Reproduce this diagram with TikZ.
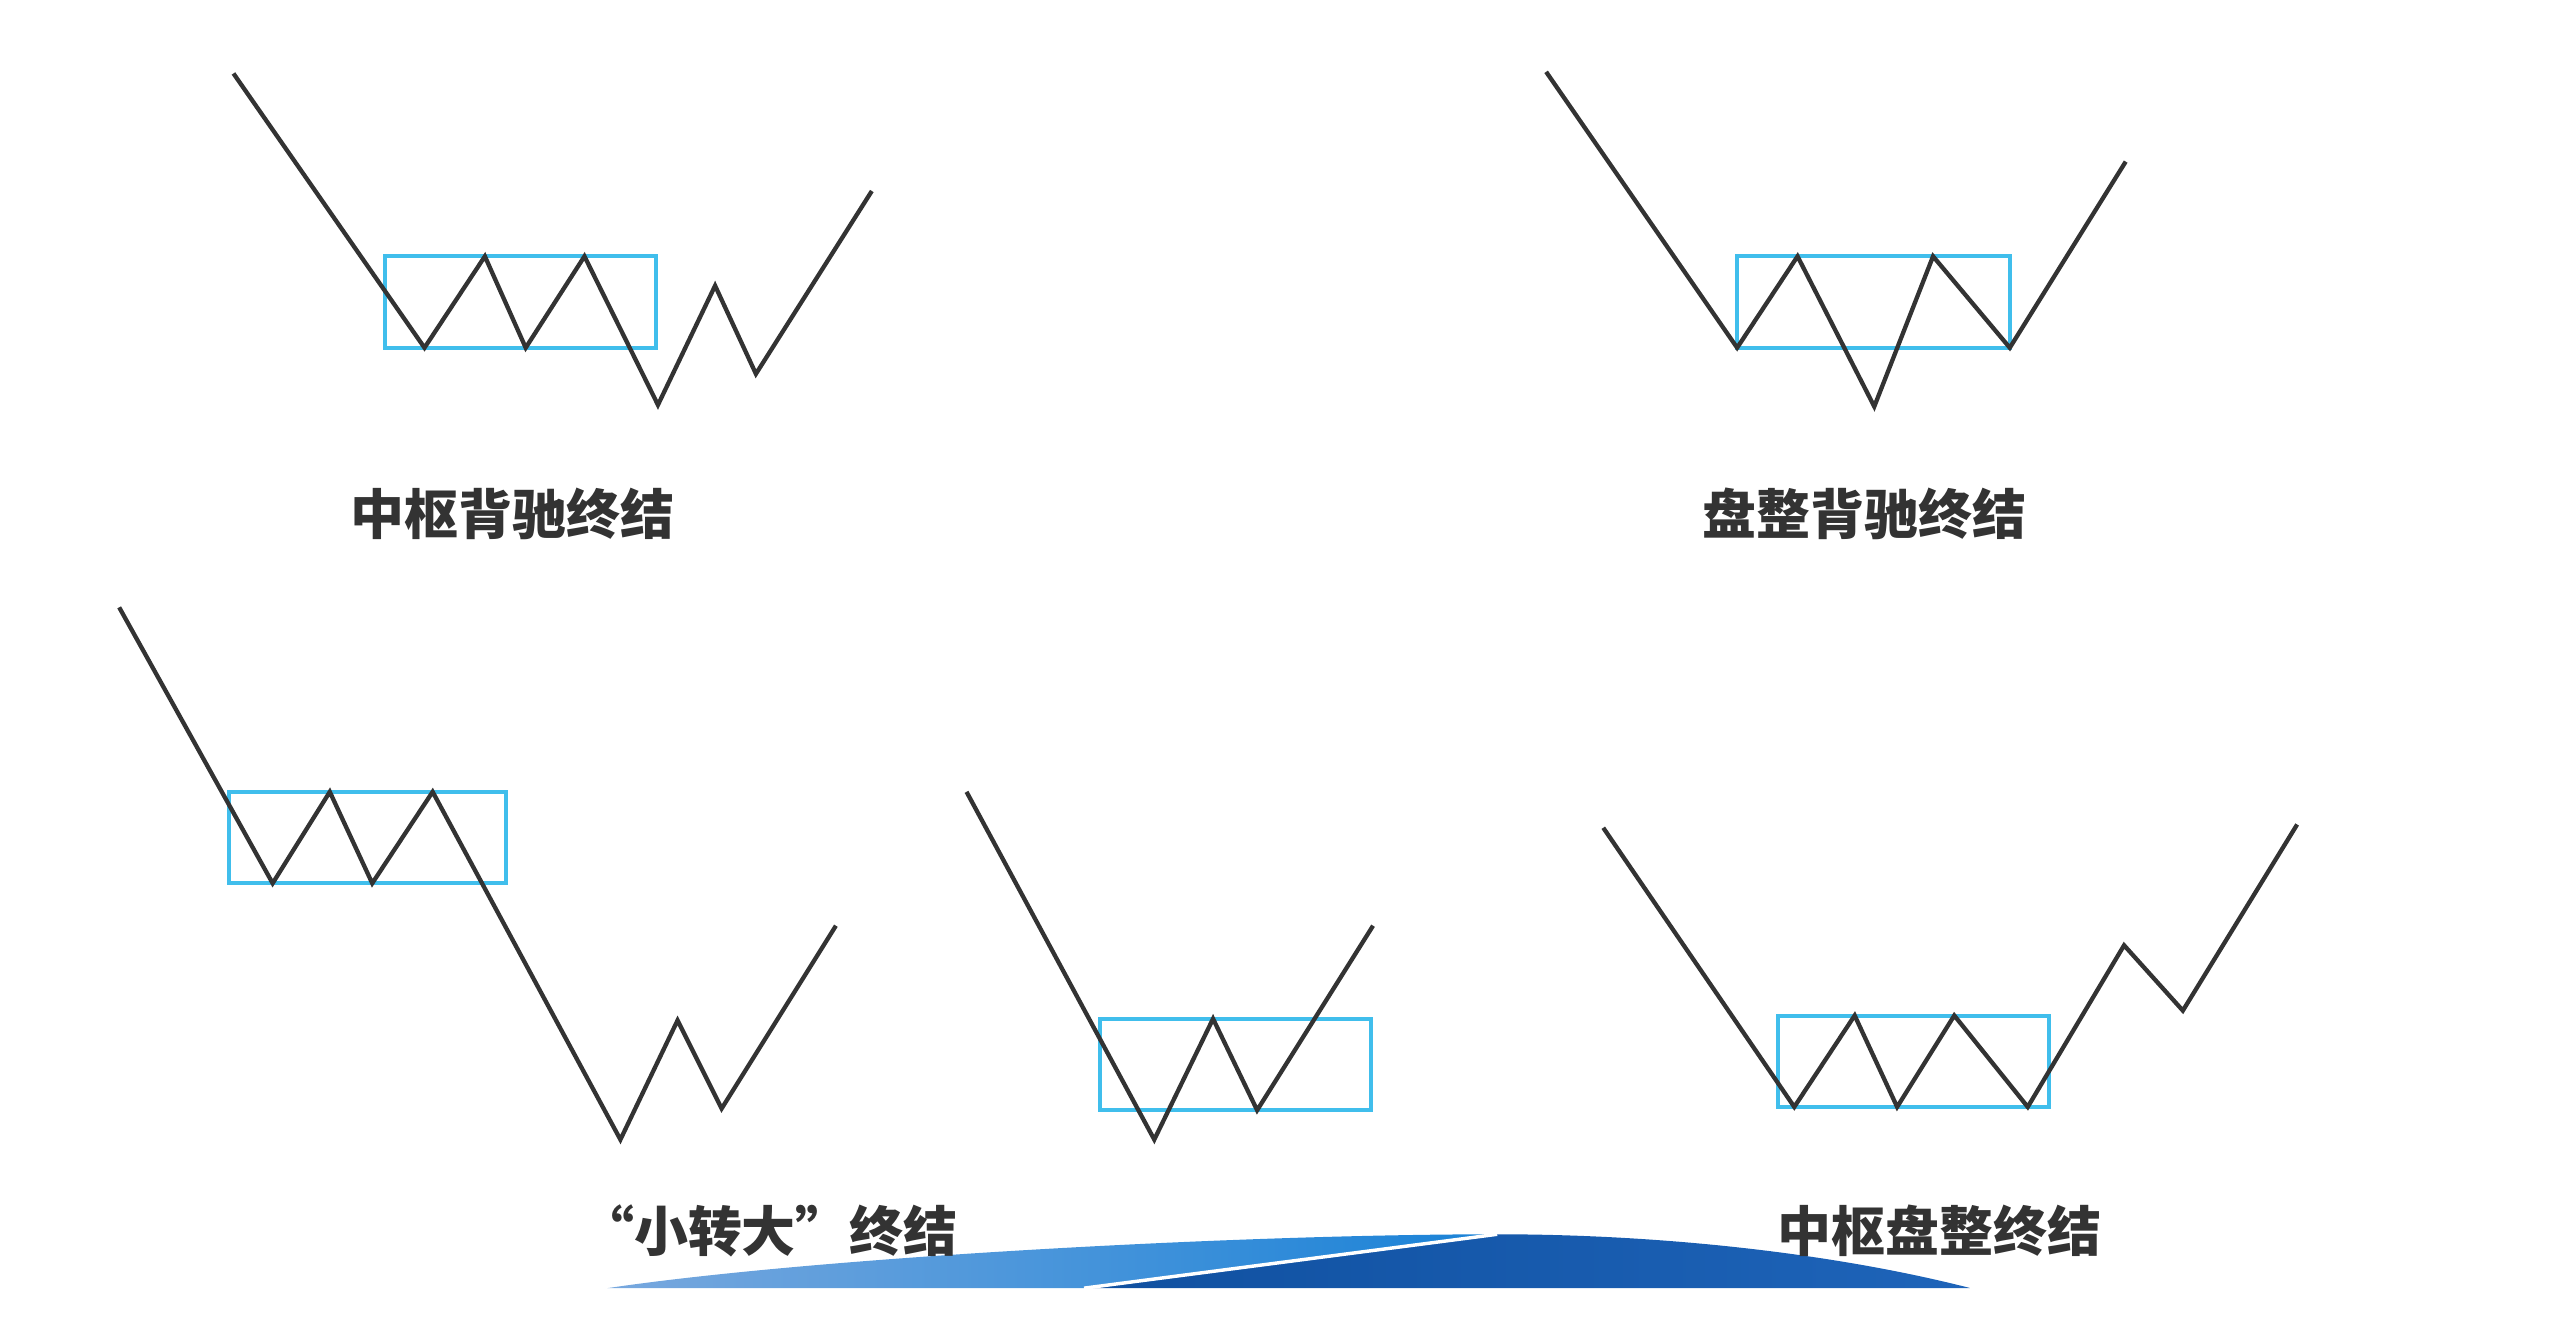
\documentclass[tikz,border=0pt]{standalone}
\usepackage{fontspec}
\newfontfamily\cjk{Noto Sans CJK SC}
\definecolor{boxblue}{RGB}{64,190,236}
\definecolor{swLight}{RGB}{120,168,222}
\definecolor{swMid}{RGB}{25,130,215}
\definecolor{swDark}{RGB}{16,80,160}
\definecolor{swDarkB}{RGB}{30,100,185}

\begin{document}
\begin{tikzpicture}[x=0.01cm, y=-0.01cm,
    zig/.style={draw=black!80, line width=0.75pt, line join=miter},
    zsbox/.style={draw=boxblue, line width=0.7pt},
    caption/.style={font={\cjk\bfseries\fontsize{9.4}{11}\selectfont}, text=black!80, inner sep=0pt}]
    \useasboundingbox (0,0) rectangle (1568,818);
    % top left
    \draw[zsbox] (236,157) rectangle (402,213);
    \draw[zig] (143,45) -- (260,213) -- (297,157) -- (322,213) -- (358,157) -- (403,248) -- (438,175) -- (463,229) -- (534,117);
    \node[caption] (capA) at (314,315) {中枢背驰终结};
    % top right
    \draw[zsbox] (1064,157) rectangle (1231,213);
    \draw[zig] (947,44) -- (1064,213) -- (1101,157) -- (1148,249) -- (1184,157) -- (1231,213) -- (1302,99);
    \node[caption] (capB) at (1142,315) {盘整背驰终结};
    % bottom left
    \draw[zsbox] (140,485) rectangle (310,541);
    \draw[zig] (73,372) -- (167,541) -- (202,485) -- (228,541) -- (265,485) -- (380,698) -- (415,625) -- (442,679) -- (512,567);
    % bottom middle
    \draw[zsbox] (674,624) rectangle (840,680);
    \draw[zig] (592,485) -- (707,698) -- (743,624) -- (770,680) -- (841,567);
    % bottom right
    \draw[zsbox] (1089,622) rectangle (1255,678);
    \draw[zig] (982,507) -- (1099,678) -- (1136,622) -- (1162,678) -- (1197,622) -- (1242,678) -- (1301,579) -- (1337,619) -- (1407,505);
    % swoosh
    \shade[left color=swLight, right color=swMid] (372,789) .. controls (500,770) and (760,756) .. (917,756) -- (664,789) -- cycle;
    \shade[left color=swDark, right color=swDarkB] (664,789) -- (917,756) .. controls (1020,756) and (1125,768) .. (1207,789) -- cycle;
    \draw[white, line width=0.6pt] (664,789) -- (917,756);
    \node[caption] (capC) at (471,754) {“小转大”终结};
    \node[caption] (capD) at (1188,754) {中枢盘整终结};
\end{tikzpicture}
\end{document}
